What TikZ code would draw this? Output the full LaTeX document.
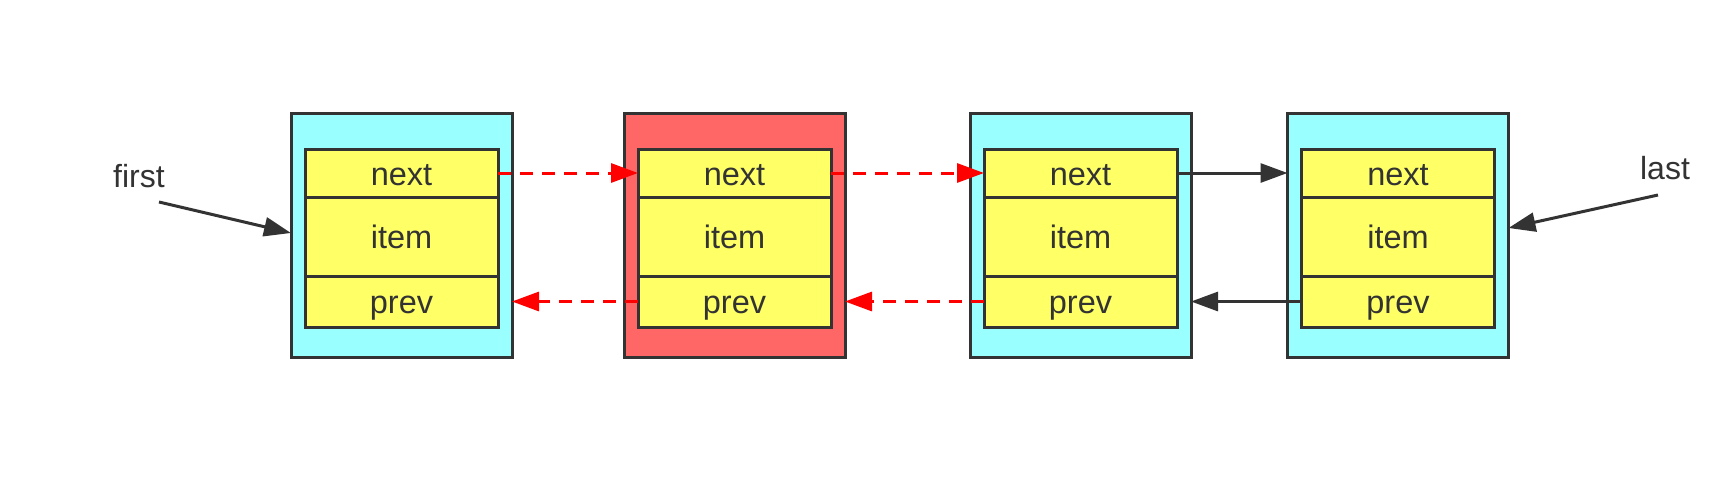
\documentclass[tikz,border=0pt]{standalone}
\usepackage{fontspec}
\setmainfont{Liberation Sans}
\usetikzlibrary{arrows.meta}
\definecolor{cyanbox}{HTML}{99FFFF}
\definecolor{redbox}{HTML}{FF6666}
\definecolor{field}{HTML}{FFFF66}
\definecolor{ink}{HTML}{333333}
\definecolor{redarrow}{HTML}{FF0000}
\begin{document}
\begin{tikzpicture}[x=1pt,y=-1pt,
  outerbox/.style={draw=ink,line width=3pt,rectangle,minimum width=221pt,minimum height=244pt,inner sep=0pt,outer sep=0pt},
  fieldbox/.style={draw=ink,line width=3pt,fill=field,rectangle,minimum width=193pt,inner sep=0pt,outer sep=0pt,font=\fontsize{32.5}{36}\selectfont,text=ink,text height=24pt,text depth=0pt},
  lbl/.style={font=\fontsize{32}{36}\selectfont,text=ink},
  blackarrow/.style={draw=ink,line width=3pt,-{Triangle[length=27pt,width=19pt]}},
  redlink/.style={draw=redarrow,line width=3pt,dash pattern=on 13pt off 9pt,-{Triangle[length=27pt,width=19pt,fill=redarrow]}}
]
\useasboundingbox (0,0) rectangle (1722,501);
\node[outerbox,fill=cyanbox] (o1) at (401.5,235) {};
\node[outerbox,fill=redbox]  (o2) at (734.5,235) {};
\node[outerbox,fill=cyanbox] (o3) at (1080.5,235) {};
\node[outerbox,fill=cyanbox] (o4) at (1398,235) {};
\foreach \i/\x in {1/401.5,2/734.5,3/1080.5,4/1398}{
  \node[fieldbox,minimum height=48pt] (n\i) at (\x,173) {next};
  \node[fieldbox,minimum height=79pt] (i\i) at (\x,236.5) {item};
  \node[fieldbox,minimum height=51pt] (p\i) at (\x,301.5) {prev};
}
\node[lbl] (first) at (139,176) {first};
\node[lbl] (last) at (1665,168) {last};
\coordinate (fs) at (159,202);
\coordinate (ls) at (1658,195);
\draw[blackarrow] (fs) -- ([yshift=2pt]o1.west);
\draw[blackarrow] (ls) -- ([yshift=7pt]o4.east);
\draw[redlink] (n1.east) -- (n2.west);
\draw[redlink] (n2.east) -- (n3.west);
\draw[blackarrow] (n3.east) -- (n3.east -| o4.west);
\draw[redlink] (p2.west) -- (p2.west -| o1.east);
\draw[redlink] (p3.west) -- (p3.west -| o2.east);
\draw[blackarrow] (p4.west) -- (p4.west -| o3.east);
\end{tikzpicture}
\end{document}
